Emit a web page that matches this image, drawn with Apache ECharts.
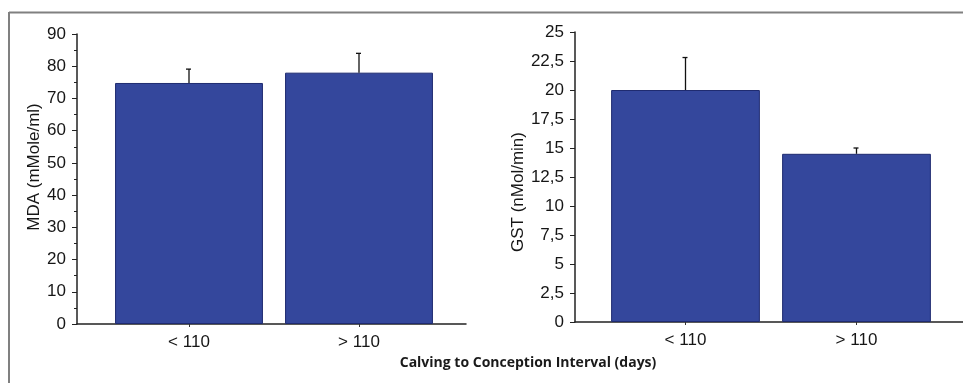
<!DOCTYPE html>
<html>
<head>
<meta charset="utf-8">
<script src="https://cdn.jsdelivr.net/npm/echarts@6/dist/echarts.min.js"></script>
<style>html,body{margin:0;padding:0;background:#fff}#c{width:963px;height:383px}</style>
</head>
<body>
<div id="c"></div>
<script>
const categories = ['< 110', '> 110'];
const mdaValues = [74.8, 78.0];
const mdaUpper = [79.1, 84.0];
const gstValues = [20.0, 14.5];
const gstUpper = [22.8, 15.0];
const xTitle = 'Calving to Conception Interval (days)';
const mdaName = 'MDA (mMole/ml)';
const gstName = 'GST (nMol/min)';

const FONT = '"Liberation Sans", Arial, sans-serif';
const TXT = '#161616';
const BAR = '#34479c';
const BARB = '#1f2b70';

function errItem(params, api) {
  const x = api.value(0);
  const p0 = api.coord([x, api.value(1)]);
  const p1 = api.coord([x, api.value(2)]);
  return {
    type: 'group',
    children: [
      {type: 'line', shape: {x1: p0[0], y1: p0[1], x2: p1[0], y2: p1[1]}, style: {stroke: '#111', lineWidth: 1.3}},
      {type: 'line', shape: {x1: p1[0] - 3, y1: p1[1], x2: p1[0] + 2, y2: p1[1]}, style: {stroke: '#111', lineWidth: 1.3}}
    ]
  };
}

const comma = v => String(v).replace('.', ',');

const chart = echarts.init(document.getElementById('c'), null, {renderer: 'canvas'});
chart.setOption({
  animation: false,
  backgroundColor: '#fff',
  grid: [
    {left: 77, top: 34, width: 389, height: 290},
    {left: 104, top: 34, width: 340, height: 290},
    {left: 575, top: 32, width: 390, height: 290},
    {left: 600, top: 32, width: 342, height: 290}
  ],
  xAxis: [
    {gridIndex: 0, type: 'value', min: 0, max: 1, axisLine: {show: true, onZero: false, lineStyle: {color: '#222', width: 1.5}}, axisTick: {show: false}, axisLabel: {show: false}, splitLine: {show: false}},
    {gridIndex: 1, type: 'category', data: categories, axisLine: {show: false}, axisTick: {show: true, alignWithLabel: true, length: 3, lineStyle: {color: '#333'}},
      axisLabel: {margin: 10, fontFamily: FONT, fontSize: 17, color: TXT}},
    {gridIndex: 2, type: 'value', min: 0, max: 1, axisLine: {show: true, onZero: false, lineStyle: {color: '#222', width: 1.5}}, axisTick: {show: false}, axisLabel: {show: false}, splitLine: {show: false}},
    {gridIndex: 3, type: 'category', data: categories, axisLine: {show: false}, axisTick: {show: true, alignWithLabel: true, length: 3, lineStyle: {color: '#333'}},
      axisLabel: {margin: 10, fontFamily: FONT, fontSize: 17, color: TXT}}
  ],
  yAxis: [
    {gridIndex: 0, type: 'value', min: 0, max: 90, interval: 10,
      axisLine: {show: true, lineStyle: {color: '#222', width: 1.5}},
      axisTick: {show: true, length: 5, lineStyle: {color: '#222'}},
      minorTick: {show: true, splitNumber: 2, length: 3, lineStyle: {color: '#222'}},
      splitLine: {show: false},
      axisLabel: {margin: 11, fontFamily: FONT, fontSize: 17, color: TXT},
      name: mdaName, nameLocation: 'middle', nameGap: 34, nameRotate: 90,
      nameTextStyle: {fontFamily: FONT, fontSize: 17, color: TXT, padding: [0, 0, 0, 24]}},
    {gridIndex: 1, type: 'value', min: 0, max: 90, show: false},
    {gridIndex: 2, type: 'value', min: 0, max: 25, interval: 2.5,
      axisLine: {show: true, lineStyle: {color: '#222', width: 1.5}},
      axisTick: {show: true, length: 5, lineStyle: {color: '#222'}},
      splitLine: {show: false},
      axisLabel: {margin: 11, fontFamily: FONT, fontSize: 17, color: TXT, formatter: comma},
      name: gstName, nameLocation: 'middle', nameGap: 46, nameRotate: 90,
      nameTextStyle: {fontFamily: FONT, fontSize: 17, color: TXT, padding: [0, 30, 0, 0]}},
    {gridIndex: 3, type: 'value', min: 0, max: 25, show: false}
  ],
  series: [
    {type: 'bar', xAxisIndex: 1, yAxisIndex: 1, data: mdaValues, barCategoryGap: '13%',
      itemStyle: {color: BAR, borderColor: BARB, borderWidth: 1}},
    {type: 'custom', xAxisIndex: 1, yAxisIndex: 1, renderItem: errItem, z: 5,
      data: categories.map((c, i) => [i, mdaValues[i], mdaUpper[i]])},
    {type: 'bar', xAxisIndex: 3, yAxisIndex: 3, data: gstValues, barCategoryGap: '13%',
      itemStyle: {color: BAR, borderColor: BARB, borderWidth: 1}},
    {type: 'custom', xAxisIndex: 3, yAxisIndex: 3, renderItem: errItem, z: 5,
      data: categories.map((c, i) => [i, gstValues[i], gstUpper[i]])}
  ],
  graphic: [
    {type: 'line', shape: {x1: 9, y1: 12.5, x2: 963, y2: 12.5}, style: {stroke: '#808080', lineWidth: 2}},
    {type: 'line', shape: {x1: 9, y1: 12, x2: 9, y2: 383}, style: {stroke: '#808080', lineWidth: 2}},
    {type: 'text', x: 528, y: 363, style: {text: xTitle, fontFamily: '"Open Sans", sans-serif', fontWeight: 'bold', fontSize: 14, fill: '#1a1a1a', align: 'center', verticalAlign: 'middle'}}
  ]
});
</script>
</body>
</html>
